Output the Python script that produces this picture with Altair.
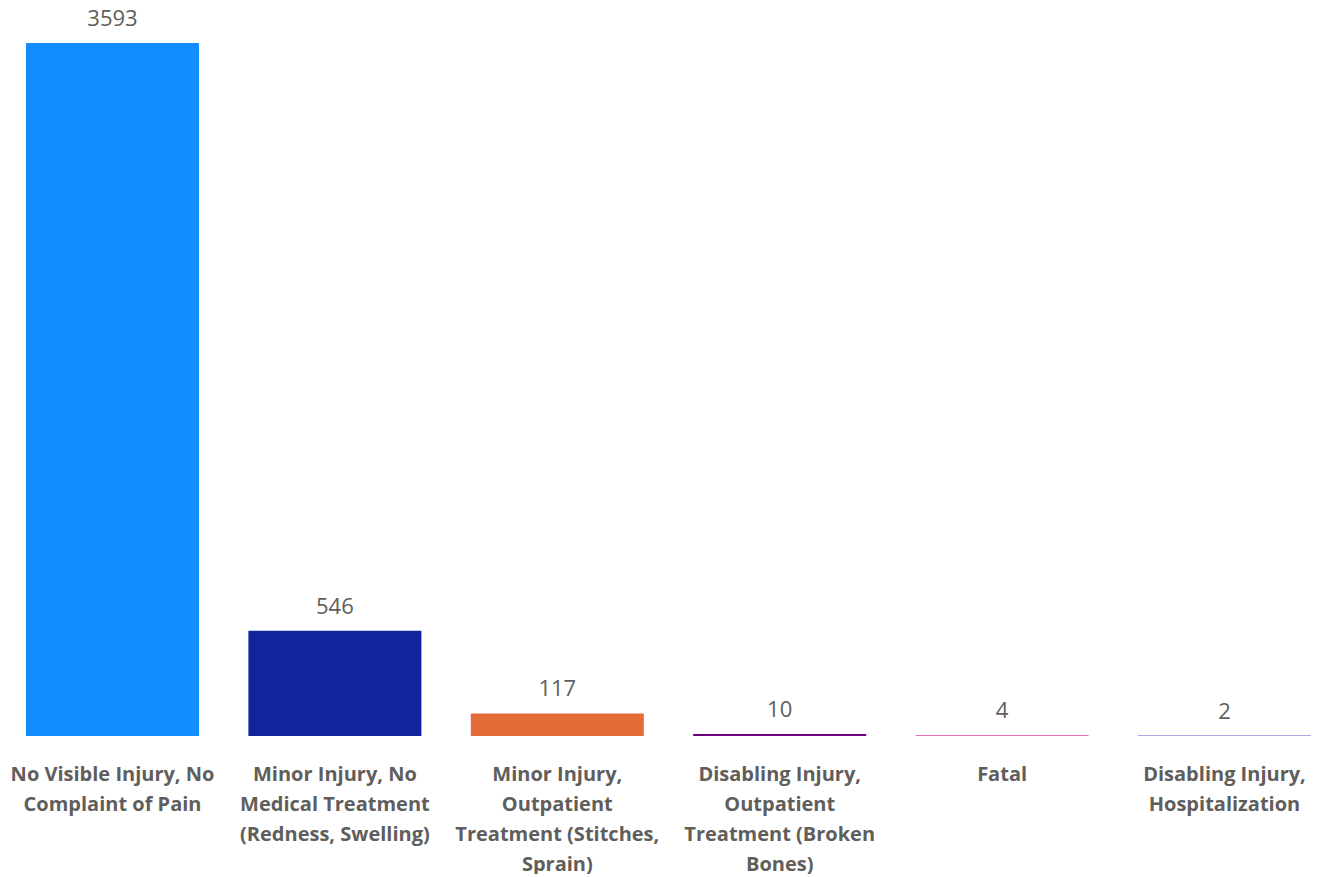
import altair as alt
import pandas as pd

categories = [
    "No Visible Injury, No Complaint of Pain",
    "Minor Injury, No Medical Treatment (Redness, Swelling)",
    "Minor Injury, Outpatient Treatment (Stitches, Sprain)",
    "Disabling Injury, Outpatient Treatment (Broken Bones)",
    "Fatal",
    "Disabling Injury, Hospitalization",
]
label_lines = [
    ["No Visible Injury, No", "Complaint of Pain"],
    ["Minor Injury, No", "Medical Treatment", "(Redness, Swelling)"],
    ["Minor Injury,", "Outpatient", "Treatment (Stitches,", "Sprain)"],
    ["Disabling Injury,", "Outpatient", "Treatment (Broken", "Bones)"],
    ["Fatal"],
    ["Disabling Injury,", "Hospitalization"],
]
values = [3593, 546, 117, 10, 4, 2]
colors = ["#118DFF", "#12239E", "#E66C37", "#6B007B", "#E044A7", "#744EC2"]

df = pd.DataFrame({"category": categories, "value": values})

def js_str(s):
    return "'" + s.replace("'", "\\'") + "'"

expr = "''"
for cat, lines in reversed(list(zip(categories, label_lines))):
    arr = "[" + ", ".join(js_str(l) for l in lines) + "]"
    expr = f"datum.value == {js_str(cat)} ? {arr} : ({expr})"

FONT = "Open Sans"

x = alt.X(
    "category:N",
    sort=categories,
    title=None,
    scale=alt.Scale(range=[18, 1303], paddingInner=0.222, paddingOuter=0),
    axis=alt.Axis(
        labelAngle=0,
        labelExpr=expr,
        labelFont=FONT,
        labelFontSize=20,
        labelFontWeight="bold",
        labelColor="#605E5C",
        labelLineHeight=30,
        labelPadding=28,
        labelBaseline="top",
        labelLimit=300,
        domain=False,
        ticks=False,
        grid=False,
    ),
)
y = alt.Y(
    "value:Q",
    title=None,
    scale=alt.Scale(domain=[0, 3775], nice=False),
    axis=None,
)

base = alt.Chart(df)
bars = base.mark_bar().encode(
    x=x,
    y=y,
    color=alt.Color("category:N", sort=categories,
                    scale=alt.Scale(domain=categories, range=colors), legend=None),
)
text = base.mark_text(baseline="bottom", dy=-12, font=FONT, fontSize=22,
                      color="#605E5C").encode(
    x=alt.X("category:N", sort=categories),
    y="value:Q",
    text="value:Q",
)

chart = (bars + text).properties(
    width=1307, height=728, padding=0
).configure_view(stroke=None)

chart.save("out.html", embed_options={"renderer": "svg", "actions": False})
